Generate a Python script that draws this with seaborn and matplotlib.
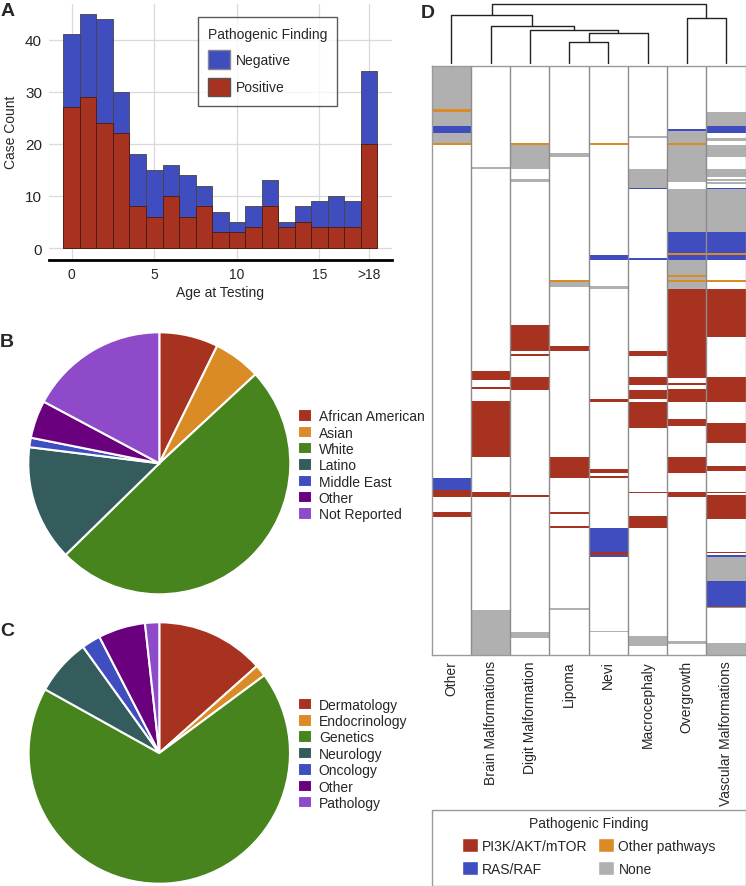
import numpy as np
import pandas as pd
import matplotlib
matplotlib.use("Agg")
import matplotlib.pyplot as plt
from matplotlib.colors import ListedColormap
from matplotlib.patches import Patch, Rectangle
import seaborn as sns

sns.set_style("white")
plt.rcParams["font.family"] = ["Liberation Sans", "DejaVu Sans"]

RED = "#a83220"
BLUE = "#3f4dbf"
ORANGE = "#db8b26"
GREEN = "#47841e"
TEAL = "#345c5c"
PURPLE = "#6b007f"
LILAC = "#8e4ac8"
GRAY = "#b0b0b0"

# ---- panel A: age at testing ----
ages = [str(i) for i in range(18)] + [">18"]
total_cases = [41, 45, 44, 30, 18, 15, 16, 14, 12, 7, 5, 8, 13, 5, 8, 9, 10, 9, 34]
positive_cases = [27, 29, 24, 22, 8, 6, 10, 6, 8, 3, 3, 4, 8, 4, 5, 4, 4, 4, 20]
age_ticks = [0, 5, 10, 15, 18]
age_tick_labels = ["0", "5", "10", "15", ">18"]

# ---- panel B: ethnicity ----
ethnicity = ["African American", "Asian", "White", "Latino", "Middle East", "Other", "Not Reported"]
ethnicity_n = [25, 20, 170, 49, 4, 16, 59]

# ---- panel C: referring specialty ----
specialty = ["Dermatology", "Endocrinology", "Genetics", "Neurology", "Oncology", "Other", "Pathology"]
specialty_n = [46, 5, 234, 24, 8, 20, 6]
pie_colors = [RED, ORANGE, GREEN, TEAL, BLUE, PURPLE, LILAC]

# ---- panel D: findings per phenotype (row runs, one row per case) ----
phenotypes = ["Other", "Brain Malformations", "Digit Malformation", "Lipoma", "Nevi",
              "Macrocephaly", "Overgrowth", "Vascular Malformations"]
n_cases = 343
# (first row, end row, finding) P=PI3K/AKT/mTOR R=RAS/RAF O=Other pathways N=None
seg_other = [(0, 25, "N"), (25, 27, "O"), (27, 35, "N"), (35, 39, "R"), (39, 45, "N"), (45, 46, "O"),
             (240, 247, "R"), (247, 251, "P"), (260, 263, "P")]
seg_brain = [(59, 60, "N"), (178, 183, "P"), (187, 188, "P"), (195, 228, "P"), (248, 251, "P"),
             (317, 343, "N")]
seg_digit = [(45, 46, "O"), (46, 60, "N"), (66, 68, "N"), (151, 166, "P"), (168, 169, "P"),
             (181, 189, "P"), (250, 251, "P"), (330, 333, "N")]
seg_lipoma = [(51, 53, "N"), (125, 126, "O"), (126, 129, "N"), (163, 166, "P"), (228, 240, "P"),
              (260, 261, "P"), (268, 269, "P"), (316, 317, "N")]
seg_nevi = [(45, 46, "O"), (110, 113, "R"), (128, 130, "N"), (194, 196, "P"), (235, 237, "P"),
            (239, 240, "P"), (269, 283, "R"), (283, 285, "P"), (285, 286, "R"), (329, 330, "N")]
seg_macro = [(41, 42, "N"), (60, 71, "N"), (71, 72, "R"), (112, 113, "R"), (166, 169, "P"),
             (181, 186, "P"), (189, 194, "P"), (196, 211, "P"), (248, 249, "P"), (262, 269, "P"),
             (332, 338, "N")]
seg_overgrowth = [(37, 38, "R"), (38, 45, "N"), (45, 46, "O"), (46, 68, "N"), (72, 97, "N"),
                  (97, 109, "R"), (109, 110, "O"), (110, 113, "R"), (113, 122, "N"), (122, 123, "O"),
                  (123, 125, "N"), (125, 126, "O"), (126, 130, "N"), (130, 182, "P"), (185, 186, "P"),
                  (188, 196, "P"), (206, 210, "P"), (228, 237, "P"), (248, 251, "P"), (335, 337, "N")]
seg_vascular = [(27, 35, "N"), (35, 39, "R"), (42, 44, "N"), (46, 53, "N"), (60, 65, "N"), (66, 67, "N"),
                (68, 69, "N"), (71, 72, "R"), (72, 97, "N"), (97, 109, "R"), (109, 110, "O"),
                (110, 113, "R"), (125, 126, "O"), (130, 158, "P"), (181, 196, "P"), (208, 220, "P"),
                (233, 236, "P"), (248, 249, "P"), (250, 264, "P"), (283, 284, "P"), (285, 286, "R"),
                (286, 300, "N"), (300, 315, "R"), (315, 316, "O"), (336, 343, "N")]
finding_labels = ["PI3K/AKT/mTOR", "RAS/RAF", "Other pathways", "None"]
finding_codes = {"P": 1, "R": 2, "O": 3, "N": 4}

# dendrogram merges (left node, right node, height); leaves 0-7, clusters 8+
merges = [(3, 4, 21.6), (8, 5, 30.3), (2, 9, 33.3), (1, 10, 36.6), (6, 7, 45.3),
          (0, 11, 47.6), (13, 12, 58.6)]

W, H = 746, 887
fig = plt.figure(figsize=(W / 100, H / 100), dpi=100)


def px_axes(x0, y0, x1, y1):
    return fig.add_axes([x0 / W, 1 - y1 / H, (x1 - x0) / W, (y1 - y0) / H])


# ================= A =================
ax = px_axes(49, 4.6, 392, 261)
sns.barplot(x=ages, y=total_cases, order=ages, color=BLUE, saturation=1, width=1.0,
            edgecolor="#444444", linewidth=0.6, errorbar=None, ax=ax)
sns.barplot(x=ages, y=positive_cases, order=ages, color=RED, saturation=1, width=1.0,
            edgecolor="#4a1a10", linewidth=0.6, errorbar=None, ax=ax)
ax.set_xlim(-1.375, 19.4)
ax.set_ylim(-2.3, 46.93)
ax.set_yticks([0, 10, 20, 30, 40])
ax.set_xticks(age_ticks)
ax.set_xticklabels(age_tick_labels, fontsize=10)
ax.tick_params(axis="y", labelsize=11, length=0, pad=5)
ax.tick_params(axis="x", length=0, pad=5)
ax.grid(True, color="#d9d9d9", lw=0.9)
ax.set_axisbelow(True)
for s in ["top", "left", "right"]:
    ax.spines[s].set_visible(False)
ax.spines["bottom"].set_color("black")
ax.spines["bottom"].set_linewidth(2)
ax.set_xlabel("Age at Testing", fontsize=10, labelpad=3)
ax.set_ylabel("Case Count", fontsize=10, labelpad=5)
leg = ax.legend(handles=[Patch(facecolor=BLUE, edgecolor="#888888", label="Negative"),
                         Patch(facecolor=RED, edgecolor="#555555", label="Positive")],
                title="Pathogenic Finding", loc="upper left",
                bbox_to_anchor=((198 - 49) / 343, 1 - (18 - 4.6) / 256.4),
                borderaxespad=0, fontsize=10, title_fontsize=10, fancybox=False,
                handlelength=1.6, handleheight=1.7, labelspacing=0.65, handletextpad=0.4,
                borderpad=0.7, alignment="left")
leg.get_frame().set_edgecolor("#333333")
leg.get_frame().set_linewidth(1)


# ================= B, C pies =================
def draw_pie(cx, cy, r, values, labels, leg_x, leg_y):
    pax = px_axes(cx - r * 1.02, cy - r * 1.02, cx + r * 1.02, cy + r * 1.02)
    wedges, _ = pax.pie(values, colors=pie_colors, startangle=90, counterclock=False,
                        wedgeprops=dict(edgecolor="white", linewidth=1.5))
    pax.set_xlim(-1.02, 1.02)
    pax.set_ylim(-1.02, 1.02)
    fig.legend(wedges, labels, loc="center left", bbox_to_anchor=(leg_x / W, 1 - leg_y / H),
               frameon=False, borderpad=0, borderaxespad=0, fontsize=10,
               handlelength=1.0, handleheight=1.0, labelspacing=0.17, handletextpad=0.5)


draw_pie(159.3, 464.3, 131, ethnicity_n, ethnicity, 298, 466.3)
draw_pie(159.3, 754, 130.7, specialty_n, specialty, 298, 754.8)

# ================= D heatmap =================
columns = [seg_other, seg_brain, seg_digit, seg_lipoma, seg_nevi, seg_macro, seg_overgrowth, seg_vascular]
mat = np.zeros((n_cases, len(phenotypes)))
for j, segs in enumerate(columns):
    for s, e, c in segs:
        mat[s:e, j] = finding_codes[c]
df = pd.DataFrame(mat, columns=phenotypes)

hx0, hy0, hx1, hy1 = 431.7, 66.7, 745.7, 655.7
hax = px_axes(hx0, hy0, hx1, hy1)
cmap = ListedColormap(["white", RED, BLUE, ORANGE, GRAY])
sns.heatmap(df, cmap=cmap, vmin=-0.5, vmax=4.5, cbar=False, ax=hax, yticklabels=False)
hax.set_xticklabels(phenotypes, rotation=90, fontsize=10)
hax.tick_params(axis="x", length=0, pad=4)
for j in range(1, len(phenotypes)):
    hax.axvline(j, color="#8c8c8c", lw=1)
for s in hax.spines.values():
    s.set_visible(True)
    s.set_color("#9a9a9a")
    s.set_linewidth(1)

# dendrogram
dax = px_axes(hx0, 5.2, hx1, 64.3)
node_x = {i: i + 0.5 for i in range(len(phenotypes))}
node_h = {i: 0.0 for i in range(len(phenotypes))}
for k, (a, b, h) in enumerate(merges):
    nid = len(phenotypes) + k
    xa, xb = node_x[a], node_x[b]
    dax.plot([xa, xa, xb, xb], [node_h[a], h, h, node_h[b]], color="#222222", lw=1, clip_on=False)
    node_x[nid] = (xa + xb) / 2
    node_h[nid] = h
dax.set_xlim(0, len(phenotypes))
dax.set_ylim(0, 58.6)
dax.axis("off")

# legend for D
fig.patches.append(Rectangle((hx0 / W, 1 - 886.7 / H), (hx1 - hx0) / W, (886.7 - 811) / H,
                             transform=fig.transFigure, fill=False, edgecolor="#9a9a9a", lw=1))
fig.legend(handles=[Patch(facecolor=c, label=l) for c, l in zip([RED, BLUE, ORANGE, GRAY], finding_labels)],
           ncol=2, title="Pathogenic Finding", loc="center",
           bbox_to_anchor=((hx0 + hx1) / 2 / W, 1 - 847 / H), frameon=False, fontsize=10,
           title_fontsize=10, handlelength=1.15, handleheight=1.15, handletextpad=0.3,
           columnspacing=0.8, labelspacing=0.6, borderpad=0)

# panel letters
for letter, (x, y) in {"A": (1, 12), "B": (0, 342.5), "C": (0, 631.5), "D": (421, 14)}.items():
    fig.text(x / W, 1 - y / H, letter, fontsize=14, weight="bold", va="center", ha="left")

fig.savefig("out.png", dpi=100)
